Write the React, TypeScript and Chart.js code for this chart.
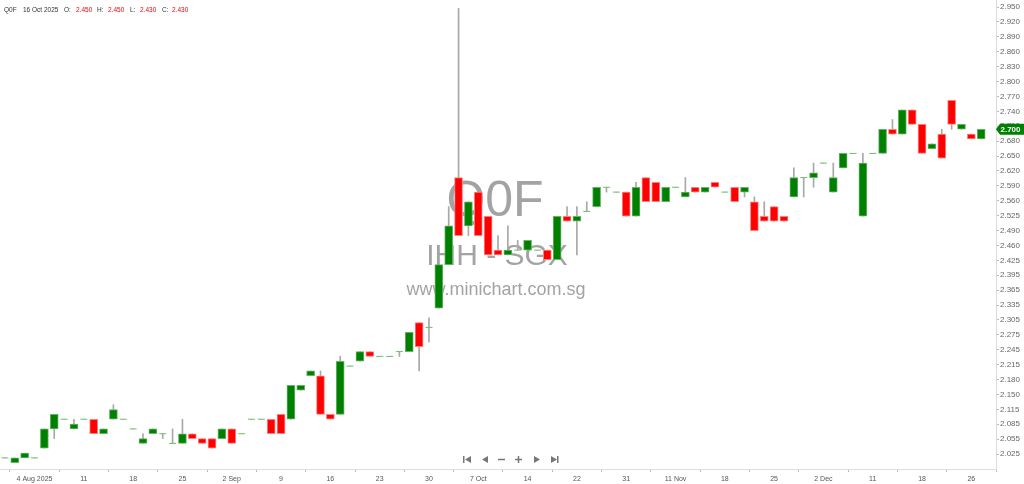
import React, { useEffect, useRef } from "react";
import { Chart, registerables } from "chart.js";

Chart.register(...registerables);

// ---- Data (daily OHLC, trading-day index 0..99) ----
const openPrices = [
  2.02, 2.01, 2.02, 2.02, 2.04, 2.08, 2.10, 2.08, 2.10, 2.10,
  2.07, 2.10, 2.10, 2.08, 2.05, 2.07, 2.07, 2.05, 2.05, 2.07,
  2.06, 2.06, 2.06, 2.08, 2.07, 2.10, 2.10, 2.10, 2.11, 2.10,
  2.16, 2.19, 2.19, 2.11, 2.11, 2.21, 2.22, 2.24, 2.23, 2.23,
  2.24, 2.24, 2.30, 2.29, 2.33, 2.42, 2.60, 2.50, 2.57, 2.52,
  2.45, 2.44, 2.45, 2.45, 2.45, 2.45, 2.43, 2.52, 2.51, 2.53,
  2.54, 2.58, 2.57, 2.57, 2.52, 2.60, 2.59, 2.55, 2.58, 2.56,
  2.58, 2.57, 2.59, 2.57, 2.58, 2.57, 2.55, 2.52, 2.54, 2.52,
  2.56, 2.60, 2.60, 2.63, 2.57, 2.62, 2.65, 2.52, 2.65, 2.65,
  2.70, 2.69, 2.74, 2.71, 2.66, 2.69, 2.76, 2.70, 2.69, 2.68,
];
const highPrices = [
  2.02, 2.02, 2.03, 2.02, 2.08, 2.11, 2.10, 2.10, 2.10, 2.10,
  2.08, 2.13, 2.10, 2.08, 2.07, 2.08, 2.07, 2.08, 2.10, 2.07,
  2.06, 2.06, 2.08, 2.08, 2.07, 2.10, 2.10, 2.10, 2.11, 2.17,
  2.17, 2.20, 2.20, 2.11, 2.23, 2.21, 2.24, 2.24, 2.23, 2.23,
  2.24, 2.28, 2.30, 2.31, 2.42, 2.54, 2.95, 2.55, 2.57, 2.52,
  2.48, 2.50, 2.47, 2.47, 2.45, 2.45, 2.52, 2.54, 2.54, 2.55,
  2.58, 2.58, 2.57, 2.57, 2.59, 2.60, 2.59, 2.58, 2.58, 2.60,
  2.58, 2.58, 2.59, 2.57, 2.58, 2.58, 2.56, 2.55, 2.54, 2.52,
  2.62, 2.60, 2.63, 2.63, 2.63, 2.65, 2.65, 2.65, 2.65, 2.70,
  2.72, 2.74, 2.74, 2.71, 2.67, 2.70, 2.76, 2.71, 2.69, 2.70,
];
const lowPrices = [
  2.02, 2.01, 2.02, 2.02, 2.04, 2.06, 2.10, 2.08, 2.10, 2.07,
  2.07, 2.10, 2.10, 2.08, 2.05, 2.07, 2.06, 2.05, 2.05, 2.06,
  2.05, 2.04, 2.06, 2.05, 2.07, 2.10, 2.10, 2.07, 2.07, 2.10,
  2.16, 2.19, 2.11, 2.10, 2.11, 2.21, 2.22, 2.23, 2.23, 2.23,
  2.23, 2.24, 2.20, 2.26, 2.33, 2.42, 2.48, 2.48, 2.48, 2.44,
  2.44, 2.44, 2.45, 2.45, 2.45, 2.43, 2.43, 2.51, 2.44, 2.53,
  2.54, 2.57, 2.57, 2.52, 2.52, 2.55, 2.55, 2.55, 2.58, 2.56,
  2.57, 2.57, 2.58, 2.57, 2.55, 2.56, 2.49, 2.51, 2.51, 2.51,
  2.56, 2.56, 2.58, 2.63, 2.57, 2.62, 2.65, 2.52, 2.65, 2.65,
  2.69, 2.69, 2.71, 2.65, 2.66, 2.64, 2.70, 2.70, 2.68, 2.68,
];
const closePrices = [
  2.02, 2.02, 2.03, 2.02, 2.08, 2.11, 2.10, 2.09, 2.10, 2.07,
  2.08, 2.12, 2.10, 2.08, 2.06, 2.08, 2.07, 2.05, 2.07, 2.06,
  2.05, 2.04, 2.08, 2.05, 2.07, 2.10, 2.10, 2.07, 2.07, 2.17,
  2.17, 2.20, 2.11, 2.10, 2.22, 2.21, 2.24, 2.23, 2.23, 2.23,
  2.24, 2.28, 2.25, 2.29, 2.42, 2.50, 2.48, 2.55, 2.48, 2.44,
  2.44, 2.45, 2.45, 2.47, 2.45, 2.43, 2.52, 2.51, 2.52, 2.53,
  2.58, 2.58, 2.57, 2.52, 2.58, 2.55, 2.55, 2.58, 2.58, 2.57,
  2.57, 2.58, 2.58, 2.57, 2.55, 2.58, 2.49, 2.51, 2.51, 2.51,
  2.60, 2.60, 2.61, 2.63, 2.60, 2.65, 2.65, 2.63, 2.65, 2.70,
  2.69, 2.74, 2.71, 2.65, 2.67, 2.64, 2.71, 2.71, 2.68, 2.70,
];

const xTickIndex = [3, 8, 13, 18, 23, 28, 33, 38, 43, 48, 53, 58, 63, 68, 73, 78, 83, 88, 93, 98];
const xTickLabels = [
  "4 Aug 2025", "11", "18", "25", "2 Sep", "9", "16", "23", "30", "7 Oct",
  "14", "22", "31", "11 Nov", "18", "25", "2 Dec", "11", "18", "26",
];
const yTickLabels = [
  "2.025", "2.055", "2.085", "2.115", "2.150", "2.180", "2.215", "2.245", "2.275", "2.305",
  "2.335", "2.365", "2.395", "2.425", "2.460", "2.490", "2.525", "2.560", "2.590", "2.620",
  "2.650", "2.680", "2.710", "2.740", "2.770", "2.800", "2.830", "2.860", "2.890", "2.920", "2.950",
];
const yTickLow = 2.028;
const yTickHigh = 2.953;
const yMin = 1.997;
const yMax = 2.9675;

const headerCode = "Q0F";
const headerDate = "16 Oct 2025";
const headerFields = ["O:", "H:", "L:", "C:"];
const headerValues = ["2.450", "2.450", "2.430", "2.430"];
const watermarkLines = ["Q0F", "IHH - SGX", "www.minichart.com.sg"];

const FONT = '"Liberation Sans", Arial, sans-serif';
const UP = "#008000";
const DOWN = "#ff0000";

const overlayPlugin = {
  id: "overlay",
  beforeDatasetsDraw(chart: any) {
    const ctx = chart.ctx;
    ctx.save();
    ctx.fillStyle = "rgba(140,140,140,0.8)";
    ctx.textAlign = "center";
    ctx.textBaseline = "middle";
    ctx.font = `50px ${FONT}`;
    ctx.fillText(watermarkLines[0], 495, 202);
    ctx.font = `30px ${FONT}`;
    ctx.fillText(watermarkLines[1], 497, 257);
    ctx.font = `18px ${FONT}`;
    ctx.fillText(watermarkLines[2], 496, 290);
    ctx.restore();
  },
  afterDraw(chart: any) {
    const ctx = chart.ctx;
    ctx.save();
    // header
    ctx.textBaseline = "middle";
    ctx.textAlign = "left";
    ctx.font = `6.5px ${FONT}`;
    ctx.fillStyle = "#333";
    ctx.fillText(headerCode, 4, 10.5);
    ctx.fillText(headerDate, 23, 10.5);
    const fx = [64, 97, 130, 162];
    const vx = [76, 108, 140, 172];
    headerFields.forEach((f, k) => {
      ctx.fillStyle = "#333";
      ctx.fillText(f, fx[k], 10.5);
      ctx.fillStyle = DOWN;
      ctx.fillText(headerValues[k], vx[k], 10.5);
    });

    // navigation icons
    const cy = 459.5;
    ctx.fillStyle = "#777";
    ctx.strokeStyle = "#777";
    ctx.lineWidth = 1.5;
    const tri = (x1: number, x2: number) => {
      ctx.beginPath();
      ctx.moveTo(x1, cy - 3.5);
      ctx.lineTo(x1, cy + 3.5);
      ctx.lineTo(x2, cy);
      ctx.closePath();
      ctx.fill();
    };
    ctx.fillRect(463, cy - 3.5, 1.5, 7);
    tri(471, 465);
    tri(488, 482);
    ctx.beginPath();
    ctx.moveTo(498, cy);
    ctx.lineTo(505, cy);
    ctx.moveTo(515, cy);
    ctx.lineTo(522, cy);
    ctx.moveTo(518.5, cy - 3.5);
    ctx.lineTo(518.5, cy + 3.5);
    ctx.stroke();
    tri(534, 540);
    tri(551, 557);
    ctx.fillRect(557, cy - 3.5, 1.5, 7);

    // last price tag
    const last = closePrices[closePrices.length - 1];
    const y = chart.scales.y.getPixelForValue(last);
    const x0 = chart.chartArea.right;
    ctx.fillStyle = UP;
    ctx.beginPath();
    ctx.moveTo(x0, y);
    ctx.lineTo(x0 + 4, y - 5.5);
    ctx.lineTo(1024, y - 5.5);
    ctx.lineTo(1024, y + 5.5);
    ctx.lineTo(x0 + 4, y + 5.5);
    ctx.closePath();
    ctx.fill();
    ctx.fillStyle = "#fff";
    ctx.font = `bold 8px ${FONT}`;
    ctx.fillText(last.toFixed(3), x0 + 4.5, y + 0.5);
    ctx.restore();
  },
};

export default function App() {
  const ref = useRef<HTMLCanvasElement | null>(null);

  useEffect(() => {
    if (!ref.current) return;
    const idx = closePrices.map((_, i) => i);
    const wickData = idx.map((i) => ({ x: i, y: [lowPrices[i], highPrices[i]] }));
    const bodyIdx = idx.filter((i) => openPrices[i] !== closePrices[i]);
    const bodyData = bodyIdx.map((i) => ({ x: i, y: [openPrices[i], closePrices[i]] }));
    const bodyFill = bodyIdx.map((i) => (closePrices[i] > openPrices[i] ? UP : DOWN));
    const bodyBorder = bodyIdx.map((i) => (closePrices[i] > openPrices[i] ? "#66b266" : "#ff8080"));
    const dojiData = idx
      .filter((i) => openPrices[i] === closePrices[i])
      .map((i) => ({ x: i, y: closePrices[i] }));

    const chart = new Chart(ref.current, {
      type: "bar",
      data: {
        datasets: [
          {
            type: "bar",
            data: wickData as any,
            backgroundColor: "#a8a8a8",
            barThickness: 1,
            grouped: false,
            order: 3,
          } as any,
          {
            type: "bar",
            data: bodyData as any,
            backgroundColor: bodyFill,
            borderColor: bodyBorder,
            borderWidth: 1,
            borderSkipped: false,
            barThickness: 8,
            grouped: false,
            order: 2,
          } as any,
          {
            type: "line",
            data: dojiData as any,
            showLine: false,
            pointStyle: "line",
            pointRadius: 3.5,
            pointBorderColor: "#6cbf6c",
            pointBorderWidth: 1,
            order: 1,
          } as any,
        ],
      },
      options: {
        responsive: false,
        animation: false,
        devicePixelRatio: 1,
        layout: { padding: 0, autoPadding: false },
        plugins: { legend: { display: false }, tooltip: { enabled: false } },
        scales: {
          x: {
            type: "linear",
            min: -0.5,
            max: 100.5,
            offset: false,
            afterBuildTicks: (scale: any) => {
              scale.ticks = xTickIndex.map((v) => ({ value: v }));
            },
            afterFit: (scale: any) => {
              scale.height = 15;
              scale.paddingLeft = 0;
              scale.paddingRight = 0;
            },
            grid: { drawOnChartArea: false, drawTicks: true, tickLength: 3, color: "#bbb" },
            border: { display: true, color: "#ddd" },
            ticks: {
              autoSkip: false,
              maxRotation: 0,
              padding: 3,
              color: "#555",
              font: { size: 7, family: FONT },
              callback: (_v: any, i: number) => xTickLabels[i],
            },
          },
          y: {
            type: "linear",
            position: "right",
            min: yMin,
            max: yMax,
            afterBuildTicks: (scale: any) => {
              const n = yTickLabels.length;
              scale.ticks = yTickLabels.map((_, k) => ({
                value: yTickLow + (k * (yTickHigh - yTickLow)) / (n - 1),
              }));
            },
            afterFit: (scale: any) => {
              scale.width = 28;
              scale.paddingTop = 0;
              scale.paddingBottom = 0;
            },
            grid: { drawOnChartArea: false, drawTicks: true, tickLength: 3, color: "#bbb" },
            border: { display: true, color: "#ddd" },
            ticks: {
              autoSkip: false,
              padding: 1,
              color: "#666",
              font: { size: 8, family: FONT },
              callback: (_v: any, i: number) => yTickLabels[i],
            },
          },
        },
      } as any,
      plugins: [overlayPlugin],
    });
    return () => chart.destroy();
  }, []);

  return (
    <div style={{ position: "absolute", left: 0, top: 0, width: 1024, height: 484, background: "#fff" }}>
      <canvas ref={ref} width={1024} height={484} style={{ display: "block" }} />
    </div>
  );
}
